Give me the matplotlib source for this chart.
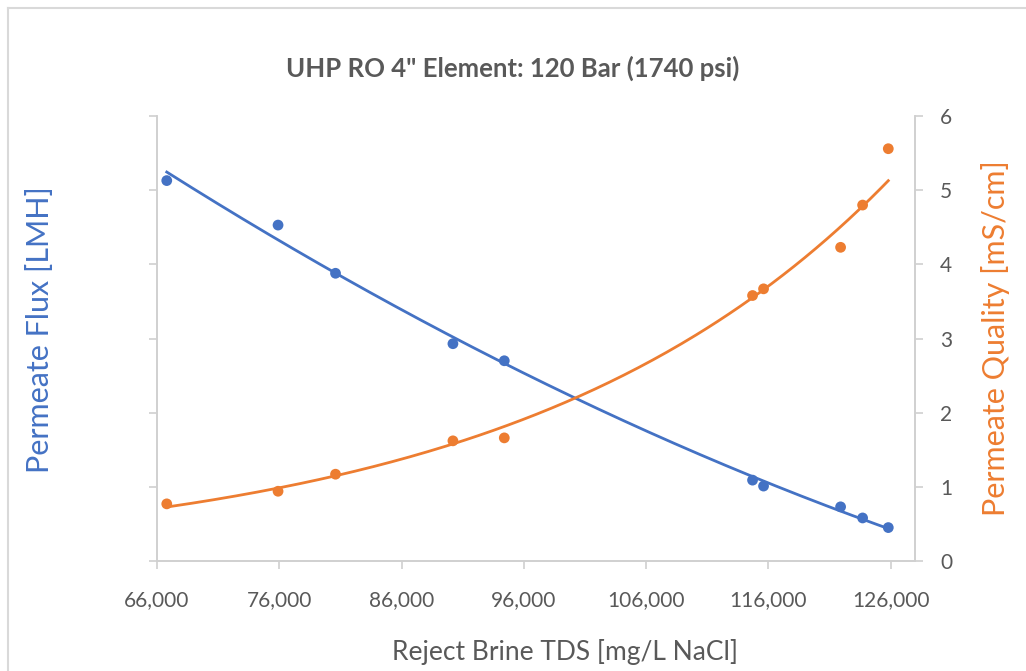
import numpy as np
import matplotlib.pyplot as plt
from matplotlib.lines import Line2D
from matplotlib.ticker import FuncFormatter

# Reject brine TDS [mg/L NaCl]
tds = [66800, 75900, 80600, 90200, 94400, 114700, 115600, 121900, 123700, 125800]
# Permeate flux (left axis, labels hidden in the original)
flux = [5.13, 4.53, 3.88, 2.93, 2.70, 1.09, 1.01, 0.73, 0.58, 0.45]
# Permeate quality [mS/cm]
quality = [0.77, 0.94, 1.17, 1.62, 1.66, 3.58, 3.67, 4.23, 4.80, 5.56]

x_ticks = [66000, 76000, 86000, 96000, 106000, 116000, 126000]
y_ticks = [0, 1, 2, 3, 4, 5, 6]

BLUE = "#4472C4"
ORANGE = "#ED7D31"
GRAY = "#595959"
AXIS = "#d0d0d0"

plt.rcParams["font.family"] = ["Lato", "DejaVu Sans"]

fig = plt.figure(figsize=(10.26, 6.71), dpi=100)
ax = fig.add_axes([0.153, 0.164, 0.739, 0.663])
ax2 = ax.twinx()

x = np.array(tds, dtype=float)
xf = np.linspace(x.min(), x.max(), 200)

# trendlines: polynomial for flux, exponential for quality
pf = np.polyfit(x, flux, 2)
pq = np.polyfit(x, np.log(quality), 1)
ax.plot(xf, np.polyval(pf, xf), color=BLUE, lw=2, zorder=2)
ax2.plot(xf, np.exp(np.polyval(pq, xf)), color=ORANGE, lw=2, zorder=2)
ax.scatter(x, flux, s=60, color=BLUE, zorder=3, edgecolors="none")
ax2.scatter(x, quality, s=60, color=ORANGE, zorder=3, edgecolors="none")

for a in (ax, ax2):
    a.set_xlim(66000, 128000)
    a.set_ylim(0, 6)
    a.set_yticks(y_ticks)
    a.spines["top"].set_visible(False)
    for s in ("left", "right", "bottom"):
        a.spines[s].set_color(AXIS)
        a.spines[s].set_linewidth(1.2)
    a.tick_params(colors=AXIS, length=6, width=1.2, labelcolor=GRAY, labelsize=15)

ax.set_xticks(x_ticks)
ax.xaxis.set_major_formatter(FuncFormatter(lambda v, p: f"{v:,.0f}"))
ax.tick_params(axis="x", pad=15)
ax.tick_params(axis="y", labelleft=False)
ax2.tick_params(axis="y", pad=12)

fig.text(0.551, 1 - 652 / 671, "Reject Brine TDS [mg/L NaCl]", ha="center", va="center",
         color=GRAY, fontsize=19)
fig.text(40 / 1026, 1 - 330 / 671, "Permeate Flux [LMH]", ha="center", va="center",
         rotation=90, color=BLUE, fontsize=22)
fig.text(995 / 1026, 1 - 338 / 671, "Permeate Quality [mS/cm]", ha="center", va="center",
         rotation=90, color=ORANGE, fontsize=22)

fig.text(0.5, 1 - 68 / 671, 'UHP RO 4" Element: 120 Bar (1740 psi)', ha="center", va="center",
         fontsize=18.5, fontweight="bold", color=GRAY)

# chart area border
fig.add_artist(Line2D([0.008, 1.0], [0.988, 0.988], transform=fig.transFigure, color="#d9d9d9", lw=1.5))
fig.add_artist(Line2D([0.008, 0.008], [0.0, 0.988], transform=fig.transFigure, color="#d9d9d9", lw=1.5))

fig.savefig("out.png", dpi=100)
